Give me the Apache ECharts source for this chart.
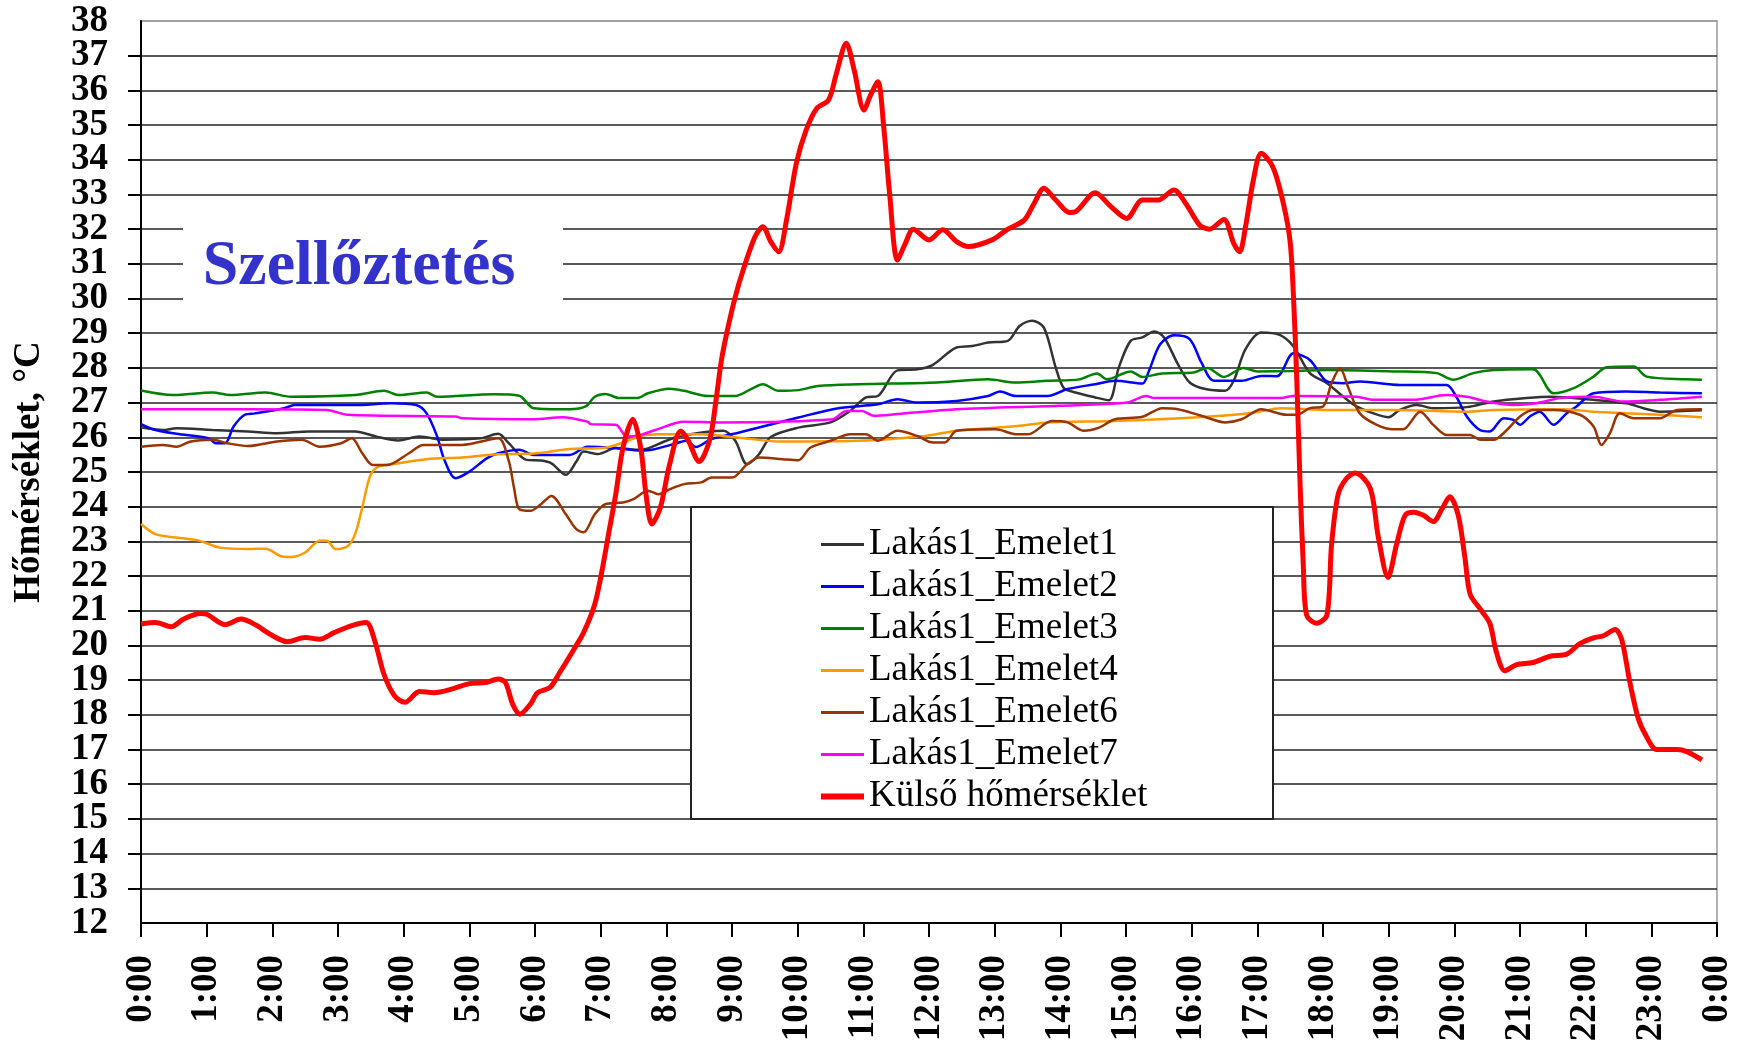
<!DOCTYPE html>
<html>
<head>
<meta charset="utf-8">
<script src="https://cdn.jsdelivr.net/npm/echarts@6/dist/echarts.min.js"></script>
<style>
html, body { margin: 0; padding: 0; background: #fff; }
#chart { width: 1744px; height: 1047px; }
</style>
</head>
<body>
<div id="chart"></div>
<script>
// tick labels
var xTickLabels = ['0:00','1:00','2:00','3:00','4:00','5:00','6:00','7:00','8:00','9:00','10:00','11:00',
    '12:00','13:00','14:00','15:00','16:00','17:00','18:00','19:00','20:00','21:00','22:00','23:00','0:00'];
var yMin = 12, yMax = 38;

var seriesNames = ['Lakás1_Emelet1','Lakás1_Emelet2','Lakás1_Emelet3','Lakás1_Emelet4',
    'Lakás1_Emelet6','Lakás1_Emelet7','Külső hőmérséklet'];

// [hour, °C]
var emelet1 = [[0,26.29],[0.33,26.21],[0.54,26.26],[1.09,26.21],[1.63,26.17],[2.07,26.12],[2.56,26.17],[3.26,26.17],
    [3.59,26.02],[3.92,25.91],[4.24,26.02],[4.62,25.93],[5.17,25.97],[5.44,26.1],[5.6,25.83],[5.87,25.35],[6.09,25.33],
    [6.25,25.25],[6.47,24.92],[6.63,25.3],[6.74,25.59],[6.96,25.52],[7.23,25.69],[7.61,25.64],[8.0,25.9],[8.21,26.04],
    [8.87,26.19],[9.05,25.9],[9.23,25.22],[9.41,25.51],[9.59,26.01],[10.01,26.28],[10.5,26.43],[10.8,26.76],[11.04,27.15],
    [11.22,27.19],[11.52,27.93],[11.82,27.96],[12.06,28.09],[12.42,28.59],[12.66,28.63],[12.9,28.73],[13.2,28.78],
    [13.38,29.21],[13.57,29.36],[13.75,29.16],[13.93,28.01],[14.05,27.43],[14.23,27.29],[14.53,27.15],[14.74,27.07],
    [14.89,28.01],[15.07,28.78],[15.25,28.88],[15.43,29.05],[15.58,28.88],[15.79,28.11],[15.97,27.58],[16.21,27.39],
    [16.51,27.34],[16.64,27.63],[16.82,28.54],[17.06,29.02],[17.34,28.95],[17.55,28.62],[17.8,27.85],[18.06,27.56],
    [18.31,27.17],[18.51,26.89],[18.77,26.69],[19.0,26.58],[19.17,26.79],[19.43,26.93],[19.68,26.84],[20.19,26.87],
    [20.6,27.03],[21.1,27.13],[21.46,27.17],[22.12,27.08],[22.62,26.98],[22.88,26.84],[23.13,26.74],[23.77,26.78]];

var emelet2 = [[0,26.38],[0.22,26.21],[0.54,26.1],[1.03,25.97],[1.14,25.83],[1.28,25.83],[1.41,26.31],[1.58,26.65],
    [1.74,26.69],[2.18,26.84],[2.34,26.93],[3.26,26.93],[3.81,26.98],[4.19,26.93],[4.35,26.69],[4.51,26.02],[4.62,25.35],
    [4.79,24.82],[5.0,25.01],[5.27,25.4],[5.44,25.54],[5.76,25.64],[5.98,25.49],[6.53,25.49],[6.8,25.73],[7.23,25.69],
    [7.61,25.62],[7.78,25.64],[8.16,25.83],[8.3,25.9],[8.45,25.72],[8.69,25.95],[9.11,26.14],[10.01,26.57],[10.62,26.84],
    [11.22,26.95],[11.52,27.1],[11.82,27.0],[12.42,27.05],[12.9,27.19],[13.08,27.32],[13.32,27.19],[13.81,27.19],
    [14.11,27.39],[14.53,27.53],[14.83,27.63],[15.25,27.55],[15.34,27.87],[15.52,28.68],[15.73,28.94],[15.97,28.83],
    [16.15,28.15],[16.34,27.63],[16.76,27.63],[17.06,27.77],[17.3,27.76],[17.55,28.42],[17.8,28.23],[18.06,27.61],
    [18.31,27.56],[18.56,27.61],[19.17,27.51],[19.88,27.51],[20.03,27.17],[20.19,26.6],[20.39,26.21],[20.54,26.17],
    [20.75,26.55],[20.9,26.5],[21.0,26.36],[21.15,26.6],[21.3,26.74],[21.51,26.36],[21.71,26.69],[21.86,26.89],
    [22.12,27.27],[22.62,27.32],[23.13,27.29],[23.77,27.27]];

var emelet3 = [[0,27.35],[0.49,27.22],[1.09,27.29],[1.36,27.22],[1.9,27.29],[2.28,27.17],[3.26,27.22],[3.7,27.34],
    [3.92,27.22],[4.35,27.29],[4.51,27.17],[5.38,27.24],[5.76,27.2],[5.98,26.84],[6.53,26.81],[6.77,26.89],[6.91,27.17],
    [7.07,27.25],[7.29,27.13],[7.56,27.13],[7.72,27.27],[8.05,27.4],[8.27,27.34],[8.63,27.19],[9.05,27.19],[9.29,27.39],
    [9.47,27.53],[9.71,27.34],[10.01,27.36],[10.31,27.48],[10.92,27.53],[12.12,27.58],[12.9,27.67],[13.32,27.58],
    [13.81,27.63],[14.29,27.67],[14.56,27.84],[14.71,27.67],[15.07,27.9],[15.25,27.74],[15.55,27.84],[16.03,27.87],
    [16.24,28.0],[16.49,27.74],[16.79,28.0],[17.0,27.9],[17.54,27.91],[18.06,27.94],[19.07,27.9],[19.73,27.85],
    [19.98,27.66],[20.29,27.85],[20.6,27.94],[21.2,27.96],[21.51,27.27],[21.81,27.41],[22.12,27.75],[22.32,28.02],
    [22.73,28.04],[22.93,27.75],[23.54,27.67],[23.77,27.66]];

var emelet4 = [[0,23.5],[0.22,23.21],[0.54,23.11],[0.87,23.03],[1.2,22.82],[1.63,22.78],[1.9,22.79],[2.12,22.58],
    [2.28,22.55],[2.5,22.68],[2.72,23.02],[2.83,23.02],[2.96,22.78],[3.15,22.87],[3.26,23.21],[3.37,23.98],[3.48,24.84],
    [3.59,25.13],[3.81,25.22],[4.35,25.37],[4.89,25.42],[5.44,25.51],[5.98,25.53],[6.53,25.66],[7.07,25.7],[7.34,25.85],
    [7.61,26.04],[7.88,26.09],[8.53,26.09],[9.11,25.99],[9.71,25.88],[10.92,25.9],[11.94,26.04],[12.42,26.19],
    [13.38,26.33],[13.81,26.43],[14.83,26.47],[16.03,26.57],[16.94,26.71],[17.36,26.84],[18.06,26.79],[19.07,26.79],
    [20.19,26.74],[20.6,26.79],[21.61,26.81],[22.12,26.74],[22.62,26.69],[23.13,26.65],[23.77,26.58]];

var emelet6 = [[0,25.73],[0.33,25.78],[0.54,25.73],[0.76,25.88],[1.09,25.93],[1.31,25.83],[1.63,25.75],[2.07,25.88],
    [2.45,25.93],[2.72,25.73],[3.05,25.83],[3.21,25.97],[3.37,25.54],[3.53,25.2],[3.75,25.2],[4.08,25.54],[4.3,25.78],
    [4.89,25.78],[5.44,25.97],[5.6,25.32],[5.68,24.55],[5.76,23.93],[5.93,23.88],[6.09,24.07],[6.25,24.31],[6.47,23.78],
    [6.63,23.35],[6.74,23.26],[6.91,23.78],[7.07,24.07],[7.34,24.12],[7.5,24.22],[7.72,24.46],[7.88,24.36],[8.05,24.5],
    [8.27,24.65],[8.53,24.7],[8.69,24.84],[9.0,24.84],[9.23,25.22],[9.41,25.42],[9.77,25.37],[10.01,25.34],[10.19,25.7],
    [10.5,25.9],[10.8,26.09],[11.04,26.09],[11.22,25.9],[11.52,26.19],[11.82,26.04],[12.06,25.85],[12.24,25.85],
    [12.42,26.19],[13.02,26.23],[13.32,26.09],[13.51,26.09],[13.87,26.47],[14.11,26.43],[14.35,26.19],[14.59,26.28],
    [14.83,26.52],[15.25,26.59],[15.55,26.84],[15.79,26.81],[16.15,26.62],[16.51,26.43],[16.76,26.52],[17.06,26.81],
    [17.45,26.65],[17.6,26.65],[17.8,26.84],[18.0,26.89],[18.13,27.56],[18.26,27.99],[18.39,27.41],[18.56,26.69],
    [18.82,26.36],[19.07,26.23],[19.22,26.23],[19.48,26.74],[19.68,26.36],[19.88,26.07],[20.24,26.07],[20.39,25.93],
    [20.6,25.93],[20.8,26.21],[21.0,26.6],[21.2,26.79],[21.51,26.79],[21.91,26.65],[22.12,26.31],[22.24,25.78],
    [22.37,26.12],[22.52,26.69],[22.73,26.55],[23.13,26.55],[23.39,26.79],[23.77,26.81]];

var emelet7 = [[0,26.81],[1.63,26.81],[2.83,26.79],[3.15,26.65],[4.79,26.6],[4.89,26.55],[5.98,26.52],[6.42,26.58],
    [6.8,26.45],[6.85,26.38],[7.23,26.36],[7.4,26.02],[7.61,26.07],[7.83,26.21],[8.27,26.45],[8.81,26.43],[10.53,26.52],
    [10.74,26.76],[10.98,26.76],[11.16,26.62],[11.52,26.67],[12.42,26.81],[13.99,26.91],[15.01,27.0],[15.31,27.19],
    [15.43,27.13],[17.36,27.13],[17.54,27.19],[18.51,27.17],[18.77,27.08],[19.38,27.08],[19.88,27.22],[20.19,27.17],
    [20.49,27.03],[20.9,26.93],[21.25,26.98],[21.61,27.13],[22.12,27.17],[22.57,27.03],[23.13,27.08],[23.77,27.17]];

var kulso = [[0,20.62],[0.22,20.66],[0.46,20.54],[0.65,20.76],[0.9,20.92],[1.0,20.9],[1.28,20.6],[1.52,20.76],
    [1.74,20.6],[1.96,20.33],[2.23,20.11],[2.5,20.23],[2.72,20.18],[2.94,20.37],[3.21,20.57],[3.43,20.66],[3.56,20.13],
    [3.7,19.17],[3.86,18.55],[4.02,18.36],[4.24,18.67],[4.46,18.64],[4.73,18.74],[5.0,18.9],[5.25,18.93],[5.44,19.03],
    [5.55,18.93],[5.66,18.31],[5.77,18.02],[5.93,18.31],[6.04,18.64],[6.23,18.79],[6.36,19.17],[6.58,19.85],[6.74,20.37],
    [6.91,21.19],[7.01,22.05],[7.12,23.21],[7.23,24.36],[7.34,25.7],[7.49,26.52],[7.61,25.7],[7.69,24.36],[7.78,23.5],
    [7.91,23.98],[8.05,25.22],[8.22,26.18],[8.33,25.92],[8.5,25.3],[8.66,25.92],[8.75,26.98],[8.84,28.23],[8.93,29.09],
    [9.05,30.05],[9.17,30.82],[9.35,31.78],[9.47,32.07],[9.59,31.64],[9.71,31.35],[9.83,32.26],[9.98,33.9],[10.13,34.86],
    [10.29,35.48],[10.47,35.72],[10.59,36.49],[10.74,37.36],[10.86,36.59],[11.01,35.43],[11.1,35.82],[11.22,36.25],
    [11.31,34.95],[11.4,33.03],[11.52,31.11],[11.64,31.59],[11.76,32.0],[12.0,31.69],[12.21,31.98],[12.42,31.64],
    [12.6,31.5],[12.96,31.69],[13.2,32.0],[13.45,32.26],[13.6,32.74],[13.75,33.18],[13.93,32.84],[14.14,32.48],
    [14.23,32.5],[14.53,33.05],[14.77,32.65],[15.01,32.31],[15.25,32.84],[15.49,32.84],[15.73,33.13],[15.91,32.74],
    [16.12,32.12],[16.27,32.0],[16.49,32.28],[16.64,31.59],[16.73,31.35],[16.82,32.07],[16.94,33.42],[17.06,34.19],
    [17.24,33.78],[17.4,32.71],[17.5,31.63],[17.55,30.08],[17.6,27.69],[17.65,24.7],[17.7,22.31],[17.75,20.88],
    [17.9,20.64],[18.06,20.88],[18.13,22.9],[18.23,24.35],[18.36,24.82],[18.49,24.97],[18.72,24.53],[18.84,23.15],
    [18.99,21.96],[19.12,22.91],[19.25,23.75],[19.38,23.84],[19.53,23.75],[19.68,23.57],[19.81,23.93],[19.93,24.29],
    [20.06,23.75],[20.16,22.55],[20.24,21.48],[20.39,21.06],[20.54,20.64],[20.64,19.81],[20.77,19.27],[20.95,19.45],
    [21.2,19.51],[21.46,19.69],[21.71,19.75],[21.91,20.05],[22.12,20.22],[22.27,20.28],[22.45,20.46],[22.55,20.16],
    [22.67,18.97],[22.8,17.9],[22.93,17.36],[23.08,17.0],[23.39,17.0],[23.54,16.94],[23.77,16.7]];

var seriesData = [emelet1, emelet2, emelet3, emelet4, emelet6, emelet7, kulso];
var colors = ['#333333', '#0000ff', '#008000', '#ff9900', '#993300', '#ff00ff', '#ff0000'];

var font = '"Liberation Serif", "Times New Roman", serif';

// split lines: dark, the top one (38) grey like the plot frame
var splitColors = [];
for (var i = yMin; i <= yMax; i++) splitColors.push(i === yMax ? '#999' : '#222');

var series = seriesNames.map(function (name, i) {
    return {
        name: name,
        type: 'line',
        data: seriesData[i],
        symbol: 'none',
        smooth: 0.3,
        color: colors[i],
        lineStyle: { color: colors[i], width: i === 6 ? 5 : 2.5 },
        z: 2 + i
    };
});

// plain line icons in the legend, the outside one thicker
var legendData = seriesNames.map(function (name, i) {
    return {
        name: name,
        icon: i === 6 ? 'path://M0,0L40,0L40,5.5L0,5.5Z' : 'path://M0,0L40,0L40,3L0,3Z'
    };
});

var yLabelStyle = { margin: 33, fontFamily: font, fontSize: 37, fontWeight: 'bold', color: '#000' };

option = {
    animation: false,
    backgroundColor: '#fff',
    grid: {
        left: 141, right: 27, top: 21, bottom: 124,
        containLabel: false,
        outerBoundsMode: 'none',
        show: true,
        borderColor: '#999',
        borderWidth: 1.5
    },
    xAxis: {
        type: 'value',
        min: 0, max: 24, interval: 1,
        axisLine: { lineStyle: { color: '#000', width: 2 } },
        axisTick: { show: true, inside: false, length: 14, lineStyle: { color: '#000', width: 2 } },
        splitLine: { show: false },
        axisLabel: {
            rotate: 90,
            margin: 32,
            showMinLabel: true,
            showMaxLabel: true,
            fontFamily: font,
            fontSize: 37,
            fontWeight: 'bold',
            color: '#000',
            formatter: function (v) { return xTickLabels[v]; }
        }
    },
    yAxis: [
        {
            type: 'value',
            min: yMin, max: yMax, interval: 1,
            name: 'Hőmérséklet, °C',
            nameLocation: 'middle',
            nameGap: 93,
            nameTextStyle: { fontFamily: font, fontSize: 37, fontWeight: 'bold', color: '#000' },
            axisLine: { show: true, lineStyle: { color: '#000', width: 2 } },
            axisTick: { show: true, inside: false, length: 13, lineStyle: { color: '#000', width: 2 } },
            splitLine: { show: true, lineStyle: { color: splitColors, width: 1.5 } },
            axisLabel: yLabelStyle
        },
        {
            // second copy of the scale only to print the end labels (12, 38),
            // which the first axis drops because its labels are taller than a step
            type: 'value',
            position: 'left',
            min: yMin, max: yMax, interval: 1,
            axisLine: { show: false },
            axisTick: { show: false },
            splitLine: { show: false },
            axisLabel: Object.assign({}, yLabelStyle, {
                showMinLabel: true,
                showMaxLabel: true,
                formatter: function (v) { return (v === yMin || v === yMax) ? String(v) : ''; }
            })
        }
    ],
    legend: {
        data: legendData,
        orient: 'vertical',
        left: 816,
        top: 521,
        itemWidth: 43,
        itemHeight: 14,
        itemGap: 5,
        textStyle: { fontFamily: font, fontSize: 37, color: '#000' },
        z: 10
    },
    graphic: [
        // box behind the label text
        {
            type: 'rect', z: 8,
            shape: { x: 183, y: 212, width: 380, height: 104 },
            style: { fill: '#fff' }
        },
        {
            type: 'text', z: 9,
            x: 359, y: 267,
            style: {
                text: 'Szellőztetés',
                fill: '#3333cc',
                font: 'bold 64px ' + font,
                textAlign: 'center',
                textVerticalAlign: 'middle'
            }
        },
        // legend box
        {
            type: 'rect', z: 8,
            shape: { x: 691, y: 507, width: 582, height: 312 },
            style: { fill: '#fff', stroke: '#222', lineWidth: 2 }
        }
    ],
    series: series
};

var myChart = echarts.init(document.getElementById('chart'));
myChart.setOption(option);
</script>
</body>
</html>
